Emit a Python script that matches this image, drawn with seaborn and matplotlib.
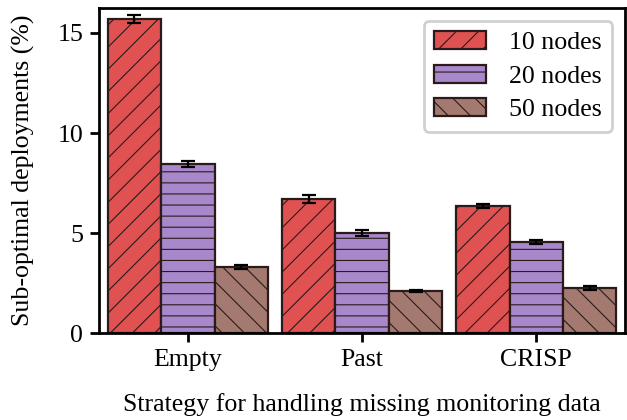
import pandas as pd
import matplotlib.pyplot as plt
import seaborn as sns

strategies = ["Empty", "Past", "CRISP"]
node_labels = ["10 nodes", "20 nodes", "50 nodes"]
values_10 = [15.7, 6.7, 6.35]
values_20 = [8.45, 5.0, 4.55]
values_50 = [3.3, 2.1, 2.25]
errors_10 = [0.2, 0.18, 0.1]
errors_20 = [0.15, 0.17, 0.1]
errors_50 = [0.1, 0.05, 0.12]

colors = ["#e05252", "#a987cb", "#a47a70"]
hatches = ["//", "--", "\\\\"]

sns.set_theme(style="ticks")
plt.rcParams['font.family'] = ['Liberation Serif', 'DejaVu Serif']
plt.rcParams['text.color'] = 'black'
plt.rcParams['axes.labelcolor'] = 'black'
plt.rcParams['hatch.linewidth'] = 0.6
plt.rcParams['axes.linewidth'] = 1.5
plt.rcParams['xtick.major.width'] = 1.5
plt.rcParams['ytick.major.width'] = 1.5
plt.rcParams['xtick.major.size'] = 5
plt.rcParams['ytick.major.size'] = 5

df = pd.DataFrame({
    "strategy": strategies * 3,
    "nodes": [node_labels[0]] * 3 + [node_labels[1]] * 3 + [node_labels[2]] * 3,
    "value": values_10 + values_20 + values_50,
})
errs = [errors_10, errors_20, errors_50]

dpi = 133
fig, ax = plt.subplots(figsize=(627 / dpi, 420 / dpi), dpi=dpi)
fig.subplots_adjust(left=0.158, right=0.997, top=0.981, bottom=0.207)

sns.barplot(data=df, x="strategy", y="value", hue="nodes", palette=colors,
            saturation=1, width=0.92, errorbar=None, edgecolor="#2a1a1a",
            linewidth=1.2, ax=ax, legend=False)

for cont, h, e in zip(ax.containers, hatches, errs):
    xs = []
    ys = []
    for p in cont.patches:
        p.set_hatch(h)
        xs.append(p.get_x() + p.get_width() / 2)
        ys.append(p.get_height())
    ax.errorbar(xs, ys, yerr=e, fmt="none", ecolor="black", elinewidth=1.2,
                capsize=4, capthick=1.2)

leg = ax.legend(ax.containers, node_labels, loc="upper right", fontsize=14,
                handlelength=2.0, handletextpad=0.9, labelspacing=0.4,
                borderaxespad=0.5, fancybox=True, framealpha=1,
                edgecolor="#d0d0d0")
leg.get_frame().set_linewidth(1.5)

ax.set_ylim(0, 16.25)
ax.set_yticks([0, 5, 10, 15])
ax.set_xlim(-0.51, 2.51)
ax.set_xlabel("Strategy for handling missing monitoring data", fontsize=14,
              labelpad=12)
ax.set_ylabel("Sub-optimal deployments (%)", fontsize=14, labelpad=12)
ax.tick_params(labelsize=14, colors="black")
for s in ax.spines.values():
    s.set_color("black")

fig.savefig("out.png", dpi=dpi)
